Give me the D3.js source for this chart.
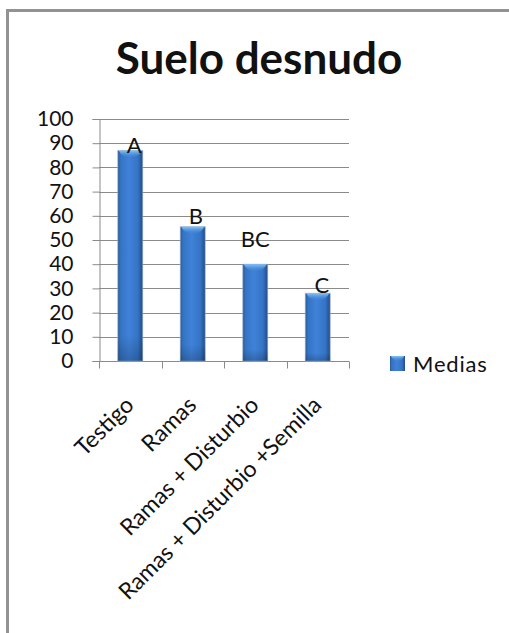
<!DOCTYPE html>
<html>
<head>
<meta charset="utf-8">
<script src="https://cdn.jsdelivr.net/npm/d3@7/dist/d3.min.js"></script>
<style>
  html, body { margin: 0; padding: 0; background: #fff; }
  svg { display: block; }
  text { font-family: Lato, "Open Sans", sans-serif; fill: #111; }
</style>
</head>
<body>
<svg id="chart" width="509" height="633"></svg>
<script>
// Chart data
const categories = ["Testigo", "Ramas", "Ramas + Disturbio", "Ramas + Disturbio +Semilla"];
const medias = [87, 55.5, 40, 28];
const letters = ["A", "B", "BC", "C"];
const yTicks = [0, 10, 20, 30, 40, 50, 60, 70, 80, 90, 100];
const seriesName = "Medias";
const title = "Suelo desnudo";

const svg = d3.select("#chart");
const W = 509, H = 633;

// Frame around the chart area
svg.append("rect").attr("width", W).attr("height", H).attr("fill", "#fff");
svg.append("path")
  .attr("d", `M7.5,${H + 5} V10.5 H${W + 5}`)
  .attr("fill", "none").attr("stroke", "#929292").attr("stroke-width", 3);

const plot = { left: 99, right: 349, top: 119, bottom: 361 };

const x = d3.scaleBand().domain(categories).range([plot.left, plot.right]).paddingInner(0.6).paddingOuter(0.3);
const xOuter = d3.scaleBand().domain(categories).range([plot.left, plot.right]);
const y = d3.scaleLinear().domain([0, 100]).range([plot.bottom, plot.top]);

// Gradients for the bevelled bars
const defs = svg.append("defs");
const g = defs.append("linearGradient").attr("id", "barGrad").attr("x1", 0).attr("x2", 1).attr("y1", 0).attr("y2", 0);
[[0, "#2b5a96"], [0.12, "#3474c4"], [0.45, "#3f82d8"], [0.8, "#3574c6"], [1, "#244c84"]]
  .forEach(([o, c]) => g.append("stop").attr("offset", o).attr("stop-color", c));
const gv = defs.append("linearGradient").attr("id", "barShade").attr("x1", 0).attr("x2", 0).attr("y1", 0).attr("y2", 1);
[[0, "#000", 0], [0.88, "#000", 0], [1, "#000", 0.2]]
  .forEach(([o, c, a]) => gv.append("stop").attr("offset", o).attr("stop-color", c).attr("stop-opacity", a));
const gc = defs.append("linearGradient").attr("id", "capGrad").attr("x1", 0).attr("x2", 0).attr("y1", 0).attr("y2", 1);
[[0, "#86c6f8", 1], [1, "#4a8ad8", 0.1]]
  .forEach(([o, c, a]) => gc.append("stop").attr("offset", o).attr("stop-color", c).attr("stop-opacity", a));

// Gridlines
svg.append("g").selectAll("line").data(yTicks.filter(d => d > 0)).join("line")
  .attr("x1", plot.left).attr("x2", plot.right)
  .attr("y1", d => Math.round(y(d)) + 0.5).attr("y2", d => Math.round(y(d)) + 0.5)
  .attr("stroke", "#8a8a8a").attr("stroke-width", 1);

// Y axis
const yAxis = svg.append("g").attr("transform", `translate(${plot.left + 0.5},0)`)
  .call(d3.axisLeft(y).tickValues(yTicks).tickSize(7).tickPadding(19));
yAxis.select(".domain").attr("stroke", "#8a8a8a");
yAxis.selectAll(".tick line").attr("stroke", "#8a8a8a");
yAxis.selectAll(".tick text").attr("font-size", 21).attr("font-family", "Lato, sans-serif").attr("fill", "#111");

// X axis with ticks at category boundaries
const xAxisG = svg.append("g").attr("transform", `translate(0,${plot.bottom + 0.5})`);
xAxisG.append("line").attr("x1", plot.left).attr("x2", plot.right).attr("stroke", "#8a8a8a");
const bounds = categories.map(c => xOuter(c)).concat([plot.right]);
xAxisG.selectAll("line.tk").data(bounds).join("line").attr("class", "tk")
  .attr("x1", d => Math.round(d) + 0.5).attr("x2", d => Math.round(d) + 0.5)
  .attr("y1", 0).attr("y2", 7).attr("stroke", "#8a8a8a");

// Category labels, rotated
xAxisG.selectAll("text.cat").data(categories).join("text").attr("class", "cat")
  .attr("transform", d => `translate(${xOuter(d) + xOuter.bandwidth() / 2 + 5},${45}) rotate(-45)`)
  .attr("text-anchor", "end").attr("font-size", 23)
  .text(d => d);

// Bars
const bars = svg.append("g").selectAll("g.bar").data(medias).join("g").attr("class", "bar");
bars.append("rect")
  .attr("x", (d, i) => x(categories[i])).attr("width", x.bandwidth())
  .attr("y", d => y(d)).attr("height", d => y(0) - y(d))
  .attr("fill", "url(#barGrad)").attr("stroke", "#9fb6d3").attr("stroke-width", 1).attr("stroke-opacity", 0.6);
bars.append("rect")
  .attr("x", (d, i) => x(categories[i])).attr("width", x.bandwidth())
  .attr("y", d => y(d)).attr("height", d => y(0) - y(d))
  .attr("fill", "url(#barShade)");
// Lighter bevel cap at the top of each bar
bars.append("path")
  .attr("d", (d, i) => {
    const x0 = x(categories[i]), w = x.bandwidth(), t = y(d);
    return `M${x0 + 1},${t} H${x0 + w - 1} Q${x0 + w - 4},${t + 7} ${x0 + w / 2},${t + 7} Q${x0 + 4},${t + 7} ${x0 + 1},${t} Z`;
  })
  .attr("fill", "url(#capGrad)");

// Letter labels above bars (placed by hand around each bar top)
const letterShift = [[4, 3], [3, -2.5], [0, -17], [4, -0.5]];
svg.append("g").selectAll("text").data(medias).join("text")
  .attr("x", (d, i) => x(categories[i]) + x.bandwidth() / 2 + letterShift[i][0])
  .attr("y", (d, i) => y(d) + letterShift[i][1])
  .attr("text-anchor", "middle").attr("font-size", 22)
  .text((d, i) => letters[i]);

// Title
svg.append("text").attr("x", 259).attr("y", 74).attr("text-anchor", "middle")
  .attr("font-size", 44).attr("font-weight", "bold").text(title);

// Legend
const leg = svg.append("g").attr("transform", "translate(390,356)");
leg.append("rect").attr("width", 15).attr("height", 15).attr("fill", "url(#barGrad)");
leg.append("path").attr("d", "M1,0 H14 Q12,5 7.5,5 Q3,5 1,0 Z").attr("fill", "url(#capGrad)");
leg.append("text").attr("x", 23).attr("y", 15.5).attr("font-size", 22).attr("letter-spacing", 0.8).text(seriesName);
</script>
</body>
</html>
